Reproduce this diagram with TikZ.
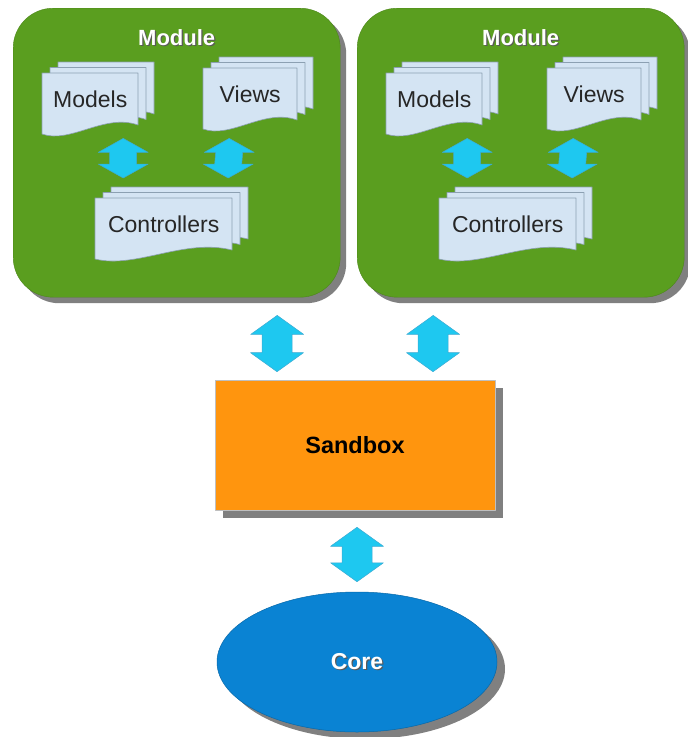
\documentclass[tikz,border=0pt]{standalone}
\usepackage{fontspec}
\setmainfont{Liberation Sans}
\usetikzlibrary{calc,shapes.geometric,shadows}
\definecolor{modgreen}{RGB}{90,158,31}
\definecolor{shadowgray}{RGB}{128,128,128}
\definecolor{sheetblue}{RGB}{212,228,243}
\definecolor{sheetline}{RGB}{140,160,178}
\definecolor{flowcyan}{RGB}{30,200,240}
\definecolor{flowline}{RGB}{60,170,210}
\definecolor{boxorange}{RGB}{255,149,14}
\definecolor{coreblue}{RGB}{10,131,211}
\newcommand{\sheet}[4]{%
  \draw[sheet] (#1,#2) -- ++(#3,0) -- ++(0,#4) .. controls +(-0.35*#3,-12) and +(0.3*#3,10) .. (#1,#2+#4+9) -- cycle;}
\newcommand{\docstack}[6]{%
  \sheet{#2+16}{#3-11}{#4}{#5}
  \sheet{#2+8}{#3-5.5}{#4}{#5}
  \sheet{#2}{#3}{#4}{#5}
  \node[doctext,minimum width=#4,minimum height=#5,anchor=north west] (#1) at (#2,#3) {#6};}
\newcommand{\twoway}[5]{%
  \path #1 coordinate (t1) #2 coordinate (t2);
  \draw[flow] (t1) -- ($(t1)+(#3,#5)$) -- ($(t1)+(#4,#5)$) -- ($(t2)+(#4,-#5)$) -- ($(t2)+(#3,-#5)$) -- (t2)
    -- ($(t2)+(-#3,-#5)$) -- ($(t2)+(-#4,-#5)$) -- ($(t1)+(-#4,#5)$) -- ($(t1)+(-#3,#5)$) -- cycle;}
\newcommand{\shadowtext}[1]{\rlap{\kern1.2pt\raisebox{-1.2pt}{\textcolor{black!65}{#1}}}#1}
\begin{document}
\begin{tikzpicture}[x=1pt,y=-1pt,line join=round]
\tikzset{module/.style={fill=modgreen,draw=modgreen!85!black,rounded corners=40pt,
    drop shadow={shadow xshift=6pt,shadow yshift=-6pt,opacity=1,fill=shadowgray}},
  modlabel/.style={font=\fontsize{22}{25}\selectfont\bfseries,text=white},
  sheet/.style={fill=sheetblue,draw=sheetline,line width=.6pt},
  doctext/.style={font=\fontsize{23}{26}\selectfont,text=black!85,inner sep=0pt},
  flow/.style={fill=flowcyan,draw=flowline,line width=.5pt},
  sandbox/.style={fill=boxorange,draw=black!25,line width=.6pt,font=\fontsize{23.5}{26}\selectfont\bfseries,
    drop shadow={shadow xshift=8pt,shadow yshift=-8pt,opacity=1,fill=shadowgray}},
  core/.style={ellipse,fill=coreblue,draw=coreblue!80!black,line width=.5pt,text=white,
    font=\fontsize{23}{26}\selectfont\bfseries,
    drop shadow={shadow xshift=8pt,shadow yshift=-7pt,opacity=1,fill=shadowgray}}}
\useasboundingbox (0,0) rectangle (688,737);
\foreach \dx/\n in {0/1,344/2}{
  \node[module,minimum width=327,minimum height=289,anchor=north west] (mod\n) at (13+\dx,8) {};
  \node[modlabel] (lab\n) at ([yshift=-30pt]mod\n.north) {\shadowtext{Module}};
  \docstack{models\n}{42+\dx}{73}{96}{52}{Models}
  \docstack{views\n}{203+\dx}{68}{94}{52}{Views}
  \docstack{ctrl\n}{95+\dx}{198}{137}{52}{Controllers}
  \twoway{([xshift=33pt,yshift=-13pt]models\n.south)}{([xshift=-40.5pt,yshift=20pt]ctrl\n.north)}{25}{13.5}{14}
  \twoway{([xshift=-21pt,yshift=-18pt]views\n.south)}{([xshift=64.5pt,yshift=20pt]ctrl\n.north)}{25}{13.5}{14}
}
\node[sandbox,minimum width=280,minimum height=130] (sandbox) at (355,445) {Sandbox};
\node[core,minimum width=280,minimum height=140] (core) at (357,662) {\shadowtext{Core}};
\twoway{([xshift=100.5pt,yshift=-18pt]mod1.south)}{([xshift=-78pt,yshift=8pt]sandbox.north)}{26.5}{15}{19}
\twoway{([xshift=-87.5pt,yshift=-18pt]mod2.south)}{([xshift=78pt,yshift=8pt]sandbox.north)}{26.5}{15}{19}
\twoway{([xshift=2pt,yshift=-17pt]sandbox.south)}{([yshift=10pt]core.north)}{26.5}{15}{19}
\end{tikzpicture}
\end{document}
